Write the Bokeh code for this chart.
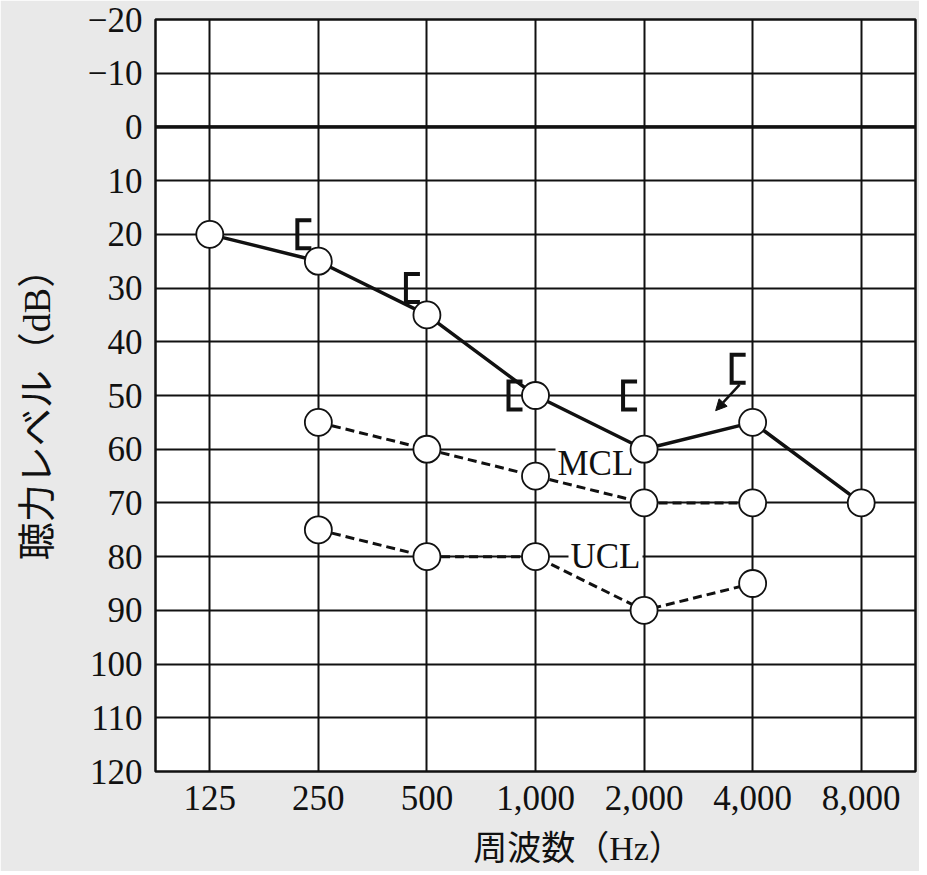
from bokeh.plotting import figure
from bokeh.models import Range1d, FixedTicker, Span, Label, Arrow, NormalHead
from bokeh.embed import file_html
from bokeh.resources import INLINE

# ---------------- data ----------------
freq_labels = ["125", "250", "500", "1,000", "2,000", "4,000", "8,000"]
y_ticks = [-20, -10, 0, 10, 20, 30, 40, 50, 60, 70, 80, 90, 100, 110, 120]

threshold_freqs = ["125", "250", "500", "1,000", "2,000", "4,000", "8,000"]
threshold_db = [20, 25, 35, 50, 60, 55, 70]

mcl_freqs = ["250", "500", "1,000", "2,000", "4,000"]
mcl_db = [55, 60, 65, 70, 70]

ucl_freqs = ["250", "500", "1,000", "2,000", "4,000"]
ucl_db = [75, 80, 80, 90, 85]

bone_freqs = ["250", "500", "1,000", "2,000", "4,000"]
bone_db = [20, 30, 50, 50, 45]
scaleout_freqs = ["4,000"]

x_title = "周波数（Hz）"
y_title = "聴力レベル（dB）"
mcl_text = "MCL"
ucl_text = "UCL"

# ---------------- layout ----------------
FRAME_W, FRAME_H = 760, 752
LEFT, RIGHT, TOP, BOTTOM = 155, 4, 19, 100
n = len(freq_labels)
px_x = FRAME_W / n
px_y = FRAME_H / (y_ticks[-1] - y_ticks[0])
idx = {f: i for i, f in enumerate(freq_labels)}

SERIF = "Liberation Serif, Noto Sans CJK JP"
INK = "#111111"

p = figure(width=LEFT + FRAME_W + RIGHT, height=TOP + FRAME_H + BOTTOM,
           x_range=Range1d(-0.5, n - 0.5), y_range=Range1d(y_ticks[-1], y_ticks[0]),
           output_backend="svg", toolbar_location=None,
           min_border_left=LEFT, min_border_right=RIGHT,
           min_border_top=TOP, min_border_bottom=BOTTOM)
p.border_fill_color = "#e9e9e9"
p.background_fill_color = "white"
p.outline_line_color = INK
p.outline_line_width = 2.5

# axes
p.xaxis.ticker = FixedTicker(ticks=list(range(n)))
p.xaxis.major_label_overrides = {i: f for i, f in enumerate(freq_labels)}
p.yaxis.ticker = FixedTicker(ticks=y_ticks)
p.yaxis.major_label_overrides = {t: ("−" + str(-t) if t < 0 else str(t)) for t in y_ticks}
for ax in (p.xaxis[0], p.yaxis[0]):
    ax.axis_line_color = None
    ax.major_tick_line_color = None
    ax.minor_tick_line_color = None
    ax.major_label_text_font = SERIF
    ax.major_label_text_font_size = "35px"
    ax.major_label_text_color = INK
    ax.axis_label_text_font = SERIF
    ax.axis_label_text_font_style = "normal"
    ax.axis_label_text_color = INK
p.xaxis.axis_label_text_font_size = "34px"
p.yaxis.axis_label_text_font_size = "38px"
# blank widths shift the centred titles, as in the source
p.xaxis.axis_label = "\u3000\u3000\u2002" + x_title
p.yaxis.axis_label = y_title + "\u3000"
p.xaxis.major_label_standoff = 8
p.yaxis.major_label_standoff = 7
p.xaxis.axis_label_standoff = 17
p.yaxis.axis_label_standoff = 27

# grid
p.xgrid.ticker = FixedTicker(ticks=list(range(n)))
p.ygrid.ticker = FixedTicker(ticks=y_ticks)
for g in (p.xgrid[0], p.ygrid[0]):
    g.grid_line_color = INK
    g.grid_line_width = 2
    g.grid_line_alpha = 1
p.add_layout(Span(location=0, dimension="width", line_color=INK, line_width=3.5, level="underlay"))

# MCL / UCL labels (white box masks grid lines)
i1k = idx["1,000"]
mcl_at = mcl_db[mcl_freqs.index("1,000")]
ucl_at = ucl_db[ucl_freqs.index("1,000")]
for txt, xx, yy in [(mcl_text, i1k + 20 / px_x, mcl_at - 13 / px_y),
                    (ucl_text, i1k + 33 / px_x, ucl_at)]:
    p.add_layout(Label(x=xx, y=yy, text=txt, text_font="Liberation Serif",
                       text_font_size="35px", text_color=INK, text_align="left",
                       text_baseline="middle", background_fill_color="white",
                       padding=2, level="underlay"))

# lines
tx = [idx[f] for f in threshold_freqs]
mx = [idx[f] for f in mcl_freqs]
ux = [idx[f] for f in ucl_freqs]
p.line(tx, threshold_db, line_color=INK, line_width=3.5)
p.line(mx, mcl_db, line_color=INK, line_width=3, line_dash="9 5")
p.line(ux, ucl_db, line_color=INK, line_width=3, line_dash="9 5")

# masked bone-conduction brackets "["
bxs, bys = [], []
for f, db in zip(bone_freqs, bone_db):
    i = idx[f]
    shift = 6 if (f in threshold_freqs and threshold_db[threshold_freqs.index(f)] == db) else 0
    xv = i - (21 + shift) / px_x
    xa = i - (7 + shift) / px_x
    h = 14 / px_y
    bxs.append([xa, xv, xv, xa])
    bys.append([db - h, db - h, db + h, db + h])
p.multi_line(bxs, bys, line_color=INK, line_width=4, line_join="miter")

# scale-out arrow
for f in scaleout_freqs:
    i = idx[f]
    db = bone_db[bone_freqs.index(f)]
    p.add_layout(Arrow(end=NormalHead(size=11, fill_color=INK, line_color=INK),
                       x_start=i - 13 / px_x, y_start=db + 16 / px_y,
                       x_end=i - 37 / px_x, y_end=db + 42 / px_y,
                       line_color=INK, line_width=2.5))

# circles
for xs, ys in [(tx, threshold_db), (mx, mcl_db), (ux, ucl_db)]:
    p.scatter(xs, ys, marker="circle", size=27, fill_color="white",
              line_color=INK, line_width=1.8)

open("out.html", "w").write(file_html(p, INLINE))
